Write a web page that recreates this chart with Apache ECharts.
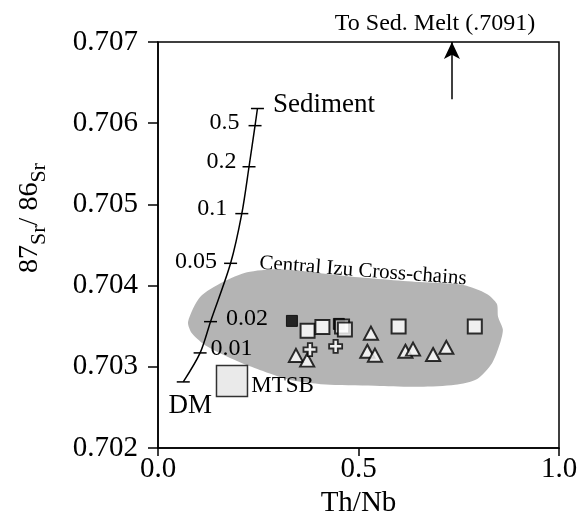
<!DOCTYPE html>
<html>
<head>
<meta charset="utf-8">
<script src="https://cdn.jsdelivr.net/npm/echarts@6/dist/echarts.min.js"></script>
<style>
  html, body { margin: 0; padding: 0; background: #fff; }
  #chart { width: 586px; height: 523px; }
</style>
</head>
<body>
<div id="chart"></div>
<script>
// mixing curve DM -> sediment, tick at each sediment fraction
const curveX = [0.063, 0.105, 0.131, 0.181, 0.209, 0.227, 0.242, 0.248]
const curveY = [0.702815, 0.703172, 0.703557, 0.704275, 0.704887, 0.705464, 0.70597, 0.706181]
const curveLabels = ['DM', '0.01', '0.02', '0.05', '0.1', '0.2', '0.5', 'Sediment']

// Central Izu cross-chains field outline
const blobX = [0.075, 0.105, 0.162, 0.222, 0.304, 0.471, 0.653, 0.761, 0.820, 0.845, 0.848, 0.860, 0.853, 0.833, 0.796, 0.741, 0.653, 0.554, 0.429, 0.329, 0.254, 0.197, 0.122, 0.085]
const blobY = [0.703557, 0.703861, 0.704044, 0.704165, 0.704202, 0.704117, 0.704044, 0.704007, 0.703898, 0.703776, 0.703618, 0.70346, 0.70329, 0.703046, 0.702852, 0.702779, 0.702754, 0.702766, 0.702779, 0.702839, 0.702961, 0.703071, 0.703253, 0.703411]

// samples
const filledSqX = [0.334, 0.451]
const filledSqY = [0.703566, 0.703529]
const openSqX = [0.373, 0.410, 0.459, 0.466, 0.600, 0.790]
const openSqY = [0.703444, 0.70349, 0.703496, 0.70346, 0.703496, 0.703496]
const triX = [0.344, 0.372, 0.531, 0.522, 0.541, 0.617, 0.636, 0.686, 0.719]
const triY = [0.703141, 0.703083, 0.703415, 0.703192, 0.703144, 0.703192, 0.703219, 0.703152, 0.703241]
const plusX = [0.379, 0.443]
const plusY = [0.703213, 0.703253]
const mtsbX = [0.1845]
const mtsbY = [0.702827]

// arrow towards sediment melt
const arrowX = 0.733
const arrowY = [0.706294, 0.707]

const xTicks = [0, 0.5, 1]
const yTicks = [0.702, 0.703, 0.704, 0.705, 0.706, 0.707]

const F = '"Liberation Serif", "Times New Roman", serif'

// label placement for the curve ticks (same order as curveLabels)
const curveLabelStyle = [
  { position: 'bottom', distance: 10, offset: [7, 0], fontSize: 27 },
  { position: 'right', distance: 4, offset: [0, -4], fontSize: 24 },
  { position: 'right', distance: 9, offset: [0, -3], fontSize: 24 },
  { position: 'left', distance: 7, offset: [0, -2], fontSize: 24 },
  { position: 'left', distance: 8, offset: [0, -5], fontSize: 24 },
  { position: 'left', distance: 6, offset: [0, -5], fontSize: 24 },
  { position: 'left', distance: 9, offset: [0, -3], fontSize: 24 },
  { position: 'right', distance: 9, offset: [0, -4], fontSize: 27 }
]

const zip = (xs, ys) => xs.map((x, i) => [x, ys[i]])

const chart = echarts.init(document.getElementById('chart'))

chart.setOption({
  animation: false,
  backgroundColor: '#fff',
  grid: {
    left: 158, right: 27, top: 42, bottom: 70,
    show: true, borderColor: '#000', borderWidth: 1.5
  },
  xAxis: {
    type: 'value',
    min: xTicks[0], max: xTicks[xTicks.length - 1], interval: 0.5,
    name: 'Th/Nb', nameLocation: 'middle', nameGap: 40,
    nameTextStyle: { fontSize: 29, color: '#000', fontFamily: F },
    axisLine: { show: true, lineStyle: { color: '#000', width: 1.5 } },
    axisTick: { show: true, length: 8, lineStyle: { color: '#000', width: 1.5 } },
    axisLabel: { fontSize: 29, color: '#000', fontFamily: F, margin: 7, formatter: v => v.toFixed(1) },
    splitLine: { show: false }
  },
  yAxis: {
    type: 'value',
    min: yTicks[0], max: yTicks[yTicks.length - 1], interval: 0.001,
    axisLine: { show: true, lineStyle: { color: '#000', width: 1.5 } },
    axisTick: { show: true, length: 10, lineStyle: { color: '#000', width: 1.5 } },
    axisLabel: { fontSize: 29, color: '#000', fontFamily: F, margin: 20, formatter: v => v.toFixed(3) },
    splitLine: { show: false }
  },
  graphic: [
    {
      type: 'text', x: 33, y: 218, rotation: Math.PI / 2,
      style: {
        text: '{a|87}{b|Sr}{a|/ 86}{b|Sr}',
        align: 'center', verticalAlign: 'middle',
        rich: {
          a: { fontSize: 28, fontFamily: F, fill: '#000', verticalAlign: 'top', lineHeight: 28, height: 28 },
          b: { fontSize: 22, fontFamily: F, fill: '#000', verticalAlign: 'bottom', lineHeight: 35, height: 22 }
        }
      }
    },
    {
      type: 'text', x: 435, y: 24,
      style: { text: 'To Sed. Melt (.7091)', fontSize: 24, fontFamily: F, fill: '#000', align: 'center', verticalAlign: 'middle' }
    },
    {
      type: 'text', x: 363, y: 271, rotation: -0.075,
      style: { text: 'Central Izu Cross-chains', fontSize: 21, fontFamily: F, fill: '#000', align: 'center', verticalAlign: 'middle' }
    }
  ],
  series: [
    {
      type: 'custom',
      silent: true,
      z: 1,
      renderItem: (params, api) => {
        const pts = blobX.map((x, i) => api.coord([x, blobY[i]]))
        return {
          type: 'polygon',
          shape: { points: pts, smooth: 0.25 },
          style: { fill: '#b4b4b4', stroke: null }
        }
      },
      data: [[0.5, 0.7035]]
    },
    {
      type: 'line',
      z: 3,
      smooth: 0.3,
      symbol: 'rect',
      symbolSize: [13, 1.5],
      showSymbol: true,
      itemStyle: { color: '#000' },
      lineStyle: { color: '#000', width: 1.5 },
      data: curveX.map((x, i) => ({
        value: [x, curveY[i]],
        label: Object.assign({
          show: true, formatter: curveLabels[i], color: '#000', fontFamily: F
        }, curveLabelStyle[i])
      }))
    },
    {
      type: 'scatter',
      z: 4,
      symbol: 'rect',
      symbolSize: 31,
      itemStyle: { color: '#e5e5e5', borderColor: '#000', borderWidth: 1.5 },
      label: {
        show: true, position: 'right', distance: 3, offset: [0, 5], formatter: 'MTSB',
        fontSize: 23, color: '#000', opacity: 1, textBorderWidth: 0, fontFamily: F
      },
      data: zip(mtsbX, mtsbY),
      markLine: {
        silent: true,
        symbol: ['none', 'arrow'],
        symbolSize: [12, 17],
        label: { show: false },
        lineStyle: { color: '#000', width: 1.5, type: 'solid' },
        data: [[{ coord: [arrowX, arrowY[0]] }, { coord: [arrowX, arrowY[1]] }]]
      }
    },
    {
      type: 'scatter',
      z: 5,
      symbol: 'rect',
      symbolSize: 11,
      itemStyle: { color: '#000', borderColor: '#000', borderWidth: 1 },
      data: zip(filledSqX, filledSqY)
    },
    {
      type: 'scatter',
      z: 6,
      symbol: 'rect',
      symbolSize: 14,
      itemStyle: { color: '#fff', borderColor: '#000', borderWidth: 2 },
      data: zip(openSqX, openSqY)
    },
    {
      type: 'scatter',
      z: 6,
      symbol: 'triangle',
      symbolSize: [14, 13],
      itemStyle: { color: '#fff', borderColor: '#000', borderWidth: 2 },
      data: zip(triX, triY)
    },
    {
      type: 'scatter',
      z: 6,
      symbol: 'path://M4,0H8V4H12V8H8V12H4V8H0V4H4Z',
      symbolSize: 13,
      itemStyle: { color: '#fff', borderColor: '#000', borderWidth: 1.8 },
      data: zip(plusX, plusY)
    }
  ]
})
</script>
</body>
</html>
